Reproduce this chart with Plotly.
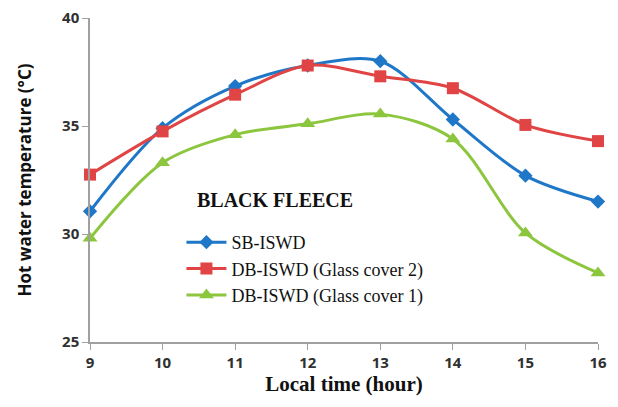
import plotly.graph_objects as go

hours = [9, 10, 11, 12, 13, 14, 15, 16]
sb_iswd = [31.05, 34.9, 36.85, 37.8, 38.0, 35.3, 32.7, 31.5]
db_cover2 = [32.75, 34.75, 36.45, 37.8, 37.3, 36.75, 35.05, 34.3]
db_cover1 = [29.8, 33.3, 34.6, 35.1, 35.55, 34.4, 30.05, 28.2]

fig = go.Figure()
series = [
    ("SB-ISWD", sb_iswd, "#1f77c8", "diamond", 11),
    ("DB-ISWD (Glass cover 2)", db_cover2, "#e04444", "square", 12),
    ("DB-ISWD (Glass cover 1)", db_cover1, "#8cc63f", "triangle-up", 13),
]
for name, vals, col, sym, sz in series:
    fig.add_trace(go.Scatter(
        x=hours, y=vals, name=name, mode="lines+markers",
        line=dict(color=col, width=3, shape="spline", smoothing=0.9),
        marker=dict(symbol=sym, size=sz, color=col),
        cliponaxis=False,
    ))

# plot area (page px): left 90, right 598, top 18, bottom 342
fig.add_annotation(
    text="<b>BLACK FLEECE</b>", xref="paper", yref="paper",
    x=(195 - 90) / 508, y=(342 - 200) / 324, xanchor="left", yanchor="middle",
    showarrow=False, font=dict(family="Liberation Serif", size=20, color="#111"),
)

fig.update_layout(
    width=602, height=391,
    margin=dict(l=82, r=12, t=10, b=57, autoexpand=False),
    plot_bgcolor="white", paper_bgcolor="white",
    showlegend=True,
    legend=dict(
        x=0.18, y=(342 - 224) / 324, xanchor="left", yanchor="top",
        bgcolor="rgba(0,0,0,0)",
        font=dict(family="Liberation Serif", size=18, color="#111"),
        itemwidth=40, tracegroupgap=0,
    ),
    xaxis=dict(
        range=[9, 16], tickvals=hours, showgrid=False, zeroline=False,
        showline=True, linecolor="#a0a0a0", linewidth=1.5, automargin=False,
        ticks="outside", tickcolor="#a0a0a0", ticklen=6,
        ticklabeloverflow="allow",
        tickfont=dict(family="Open Sans", size=15, color="#303030", weight="bold"),
        title=dict(text="<b>Local time (hour)</b>", font=dict(family="Liberation Serif", size=21, color="#111"), standoff=4),
    ),
    yaxis=dict(
        range=[25, 40], tickvals=[25, 30, 35, 40], showgrid=False, zeroline=False,
        showline=True, linecolor="#a0a0a0", linewidth=1.5, automargin=False,
        ticks="outside", tickcolor="#a0a0a0", ticklen=6,
        ticklabeloverflow="allow",
        tickfont=dict(family="Open Sans", size=15, color="#303030", weight="bold"),
        title=dict(text="<b>Hot water temperature (°C)</b>", font=dict(family="Open Sans", size=17, color="#111"), standoff=26),
    ),
)
fig.write_html("out.html")
